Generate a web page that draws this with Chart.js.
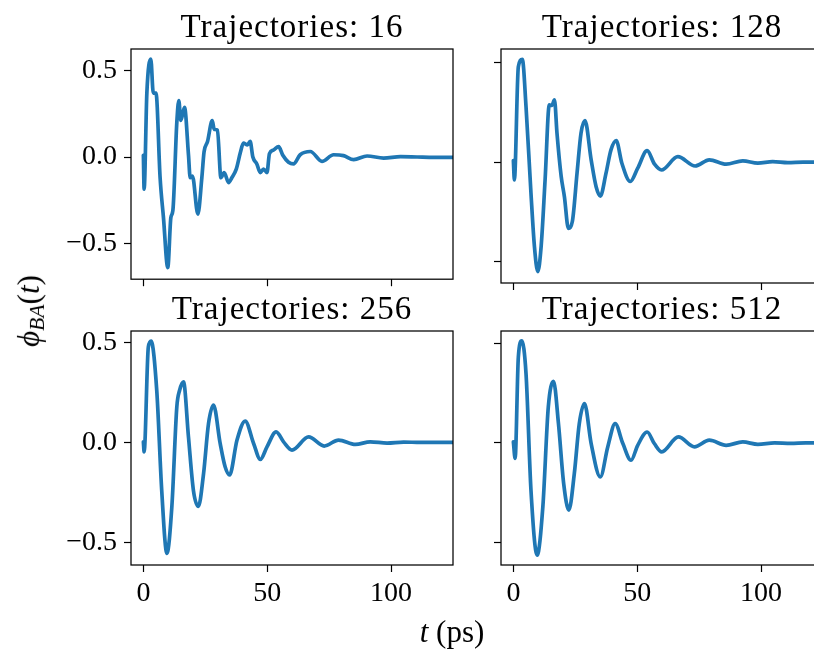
<!DOCTYPE html>
<html>
<head>
<meta charset="utf-8">
<script src="https://cdn.jsdelivr.net/npm/chart.js@4.4.0/dist/chart.umd.min.js"></script>
<style>
    html, body { margin: 0; padding: 0; background: #fff; overflow: hidden; }
    #fig { position: relative; width: 814px; height: 650px; overflow: hidden; background: #fff; }
    #fig canvas { position: absolute; }
    .lbl { position: absolute; font-family: 'Liberation Serif', serif; color: #000; white-space: nowrap; line-height: 1; }
    .lbl sub { font-size: 0.7em; vertical-align: -0.25em; }
</style>
</head>
<body>
<div id="fig">
    <canvas id="c16"></canvas>
    <canvas id="c128"></canvas>
    <canvas id="c256"></canvas>
    <canvas id="c512"></canvas>
    <div class="lbl" id="ylab" style="font-size:31px; left:31px; top:311px; transform:translate(-50%,-50%) rotate(-90deg);"><i>ϕ</i><sub><i>BA</i></sub>(<i>t</i>)</div>
    <div class="lbl" id="xlab" style="font-size:31px; left:452px; top:616px; transform:translateX(-50%);"><i>t</i> (ps)</div>
</div>
<script>
// ---- data ----
const xTicks = [0, 50, 100];
const xTickLabels = ['0', '50', '100'];
const yTicks = [-0.5, 0, 0.5];
const yTickLabels = ['\u22120.5', '0.0', '0.5'];

// 16 trajectories (noisy)
const t16 = [0, 0.3, 1.4, 3.0, 4.0, 5.1, 6.75, 8.1, 9.85, 11.1, 11.9, 13.5, 14.3, 15.1, 16.6, 18.2, 18.9, 19.8, 22.0, 23.6,
    24.5, 25.9, 27.8, 28.6, 29.9, 31.3, 32.6, 34.4, 35.7, 37.5, 39.1, 40.4, 42.0, 43.1, 44.2, 45.8, 47.2, 48.5, 49.9, 50.9,
    52.5, 54.6, 56.3, 58.6, 60.6, 63.3, 67.4, 72.1, 76.8, 80.8, 84.9, 90.3, 97, 103.8, 110.5, 117.3, 125];
const phi16 = [0.01, -0.186, 0.37, 0.567, 0.37, 0.37, -0.12, -0.35, -0.64, -0.35, -0.31, 0.2, 0.326, 0.212, 0.288, 0.013, -0.12, -0.11, -0.33, -0.12,
    0.03, 0.09, 0.21, 0.16, 0.155, -0.12, -0.09, -0.148, -0.12, -0.07, 0.023, 0.08, 0.07, 0.09, 0.0, -0.04, -0.09, -0.07, -0.09, 0.02,
    0.04, 0.06, 0.01, -0.03, -0.04, 0.013, 0.032, -0.025, 0.013, 0.008, -0.015, 0.006, -0.006, 0.002, 0, -0.002, -0.002];

// 128 trajectories
const t128 = [0, 0.4, 2.0, 3.6, 5.1, 7.1, 8.5, 9.85, 11.2, 12.8, 14.5, 15.5, 16.6, 17.6, 19.3, 20.6, 22.2, 23.8, 25.7, 27.3,
    28.9, 31.4, 33.4, 35.1, 37.4, 39.4, 41.5, 43.8, 47.2, 50.2, 54.0, 57.0, 59.8, 66.4, 73.4, 79.1, 85.9, 92.6, 98.7, 104.7,
    110.8, 117, 125];
const phi128 = [0.008, -0.089, 0.48, 0.517, 0.28, -0.156, -0.424, -0.55, -0.424, -0.089, 0.288, 0.285, 0.313, 0.146, -0.072, -0.173, -0.332, -0.298, -0.055, 0.146,
    0.209, 0.012, -0.123, -0.17, -0.055, 0.062, 0.109, -0.005, -0.097, -0.03, 0.058, -0.01, -0.039, 0.028, -0.019, 0.012, -0.01, 0.007, -0.005, 0.003,
    -0.002, 0, 0];

// 256 trajectories
const t256 = [0, 0.3, 2.0, 3.1, 5.4, 7.4, 9.5, 11.5, 13.5, 14.6, 16.2, 18.2, 20.2, 22.2, 24.3, 26.3, 28.3, 31.0, 33.0, 34.8,
    37.8, 41.1, 44.5, 47.2, 49.9, 53.6, 56.6, 60.0, 66.7, 73.0, 78.8, 85.6, 91.6, 98.4, 105.1, 111.8, 118, 125];
const phi256 = [0.003, -0.047, 0.478, 0.508, 0.26, -0.24, -0.555, -0.32, 0.178, 0.26, 0.303, 0.028, -0.24, -0.32, -0.155, 0.095, 0.187, -0.005, -0.122, -0.163,
    0.012, 0.107, -0.005, -0.085, -0.022, 0.053, 0.003, -0.038, 0.028, -0.018, 0.012, -0.01, 0.003, -0.003, 0.002, 0, 0, 0];

// 512 trajectories
const t512 = [0, 0.7, 2.0, 3.4, 5.1, 7.1, 9.6, 11.9, 14.1, 16.2, 18.2, 20.3, 22.4, 24.6, 26.6, 28.7, 31.4, 35.1, 38.1, 41.1,
    44.2, 47.5, 50.2, 54.0, 56.9, 59.9, 66.6, 73.1, 79.1, 85.9, 92.6, 98.7, 105.4, 112.0, 118, 125];
const phi512 = [0.005, -0.078, 0.432, 0.513, 0.349, -0.238, -0.564, -0.32, 0.181, 0.31, 0.097, -0.204, -0.338, -0.154, 0.097, 0.198, -0.003, -0.171, -0.02, 0.097,
    -0.003, -0.087, -0.012, 0.055, -0.003, -0.045, 0.03, -0.02, 0.014, -0.012, 0.005, -0.007, 0, -0.002, 0, 0];

const LINE_COLOR = '#1f77b4';
const FONT = 'Liberation Serif';

// frame (all four spines) + panel title, drawn relative to the chart area
const panelDeco = {
    id: 'panelDeco',
    afterDraw(chart, args, opts) {
        const a = chart.chartArea;
        const ctx = chart.ctx;
        ctx.save();
        ctx.strokeStyle = '#000';
        ctx.lineWidth = 1.25;
        ctx.strokeRect(a.left, a.top, a.right - a.left, a.bottom - a.top);
        ctx.fillStyle = '#000';
        ctx.font = '33px "' + FONT + '"';
        if ('letterSpacing' in ctx) ctx.letterSpacing = '1px';
        ctx.textAlign = 'center';
        ctx.textBaseline = 'alphabetic';
        ctx.fillText(opts.text, (a.left + a.right) / 2, a.top - 12.5);
        ctx.restore();
    }
};

// p: canvas box + margins around the plot area
function makePanel(id, t, phi, yMin, yMax, title, p) {
    const cv = document.getElementById(id);
    cv.width = p.padL + p.w + p.padR;
    cv.height = p.padT + p.h + p.padB;
    cv.style.left = (p.left - p.padL) + 'px';
    cv.style.top = (p.top - p.padT) + 'px';

    const tickGrid = { drawOnChartArea: false, drawTicks: true, tickLength: 7, tickColor: '#000', tickWidth: 1.2 };

    new Chart(cv, {
        type: 'line',
        data: {
            datasets: [{
                data: t.map((x, i) => ({ x: x, y: phi[i] })),
                borderColor: LINE_COLOR,
                borderWidth: 3.7,
                pointRadius: 0,
                cubicInterpolationMode: 'monotone',
                borderJoinStyle: 'round',
                borderCapStyle: 'round',
                fill: false
            }]
        },
        options: {
            responsive: false,
            animation: false,
            layout: { padding: { top: p.padT, right: p.padR, left: 0, bottom: 0 } },
            plugins: {
                legend: { display: false },
                tooltip: { enabled: false },
                panelDeco: { text: title }
            },
            scales: {
                x: {
                    type: 'linear',
                    min: -5,
                    max: 125,
                    border: { display: false },
                    grid: tickGrid,
                    afterBuildTicks: s => { s.ticks = xTicks.map(v => ({ value: v })); },
                    afterFit: s => { s.height = p.padB; },
                    ticks: {
                        display: p.showX,
                        padding: 5,
                        maxRotation: 0,
                        color: '#000',
                        font: { family: FONT, size: 28 },
                        callback: v => xTickLabels[xTicks.indexOf(v)]
                    }
                },
                y: {
                    type: 'linear',
                    min: yMin,
                    max: yMax,
                    border: { display: false },
                    grid: tickGrid,
                    afterBuildTicks: s => { s.ticks = yTicks.map(v => ({ value: v })); },
                    afterFit: s => { s.width = p.padL; },
                    ticks: {
                        display: p.showY,
                        padding: 7,
                        color: '#000',
                        font: { family: FONT, size: 28 },
                        callback: v => yTickLabels[yTicks.indexOf(v)]
                    }
                }
            }
        },
        plugins: [panelDeco]
    });
}

const W = 322, H = 234;
makePanel('c16', t16, phi16, -0.707, 0.625, 'Trajectories: 16',
    { left: 131, top: 49, w: W, h: H, padL: 131, padR: 10, padT: 48, padB: 20, showX: false, showY: true });
makePanel('c128', t128, phi128, -0.607, 0.569, 'Trajectories: 128',
    { left: 501, top: 49, w: W, h: H, padL: 40, padR: 10, padT: 48, padB: 20, showX: false, showY: false });
makePanel('c256', t256, phi256, -0.6135, 0.558, 'Trajectories: 256',
    { left: 131, top: 331, w: W, h: H, padL: 131, padR: 10, padT: 48, padB: 60, showX: true, showY: true });
makePanel('c512', t512, phi512, -0.614, 0.563, 'Trajectories: 512',
    { left: 501, top: 331, w: W, h: H, padL: 40, padR: 10, padT: 48, padB: 60, showX: true, showY: false });
</script>
</body>
</html>
